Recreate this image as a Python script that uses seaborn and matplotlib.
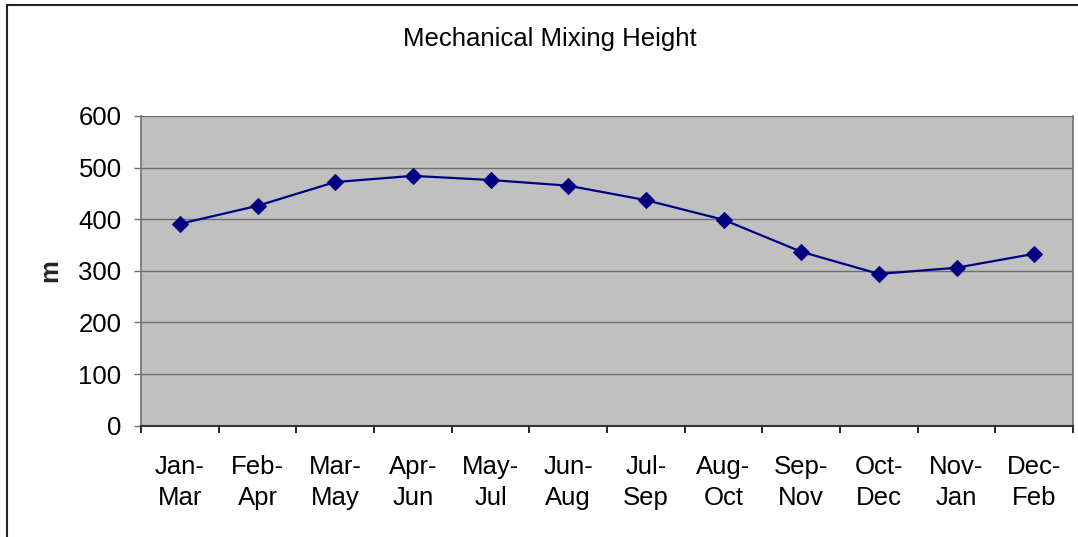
"""
Mechanical mixing height by three-month period, redrawn in the old spreadsheet look.
Output: out.png
"""

import matplotlib.pyplot as plt
import numpy as np
import pandas as pd
import seaborn as sns
from matplotlib.patches import Rectangle
from matplotlib.ticker import FixedLocator, NullFormatter

# data
periods = ["Jan-Mar", "Feb-Apr", "Mar-May", "Apr-Jun", "May-Jul", "Jun-Aug",
           "Jul-Sep", "Aug-Oct", "Sep-Nov", "Oct-Dec", "Nov-Jan", "Dec-Feb"]
height_m = [391, 426, 472, 484, 476, 465, 437, 399, 337, 294, 306, 333]
tick_labels = [p.replace("-", "-\n") for p in periods]
y_ticks = [0, 100, 200, 300, 400, 500, 600]

PLOT_BG = "#C0C0C0"
LINE = "#000080"
GRID = "#6E6E6E"
FS = 18.5

sns.set_theme(style="white")
plt.rcParams["font.family"] = ["Liberation Sans", "DejaVu Sans"]

fig = plt.figure(figsize=(10.78, 5.37), dpi=100)
ax = fig.add_axes([0.1308, 0.2073, 0.8646, 0.5767])
ax.set_facecolor(PLOT_BG)

df = pd.DataFrame({"period": periods, "height": height_m})
sns.lineplot(data=df, x="period", y="height", sort=False, ax=ax,
             color=LINE, lw=1.6, marker="D", markersize=8,
             markeredgecolor=LINE, markerfacecolor=LINE)

n = len(periods)
ax.set_xlim(-0.5, n - 0.5)
ax.set_ylim(0, 600)

# category labels centred, ticks on the boundaries
ax.xaxis.set_major_locator(FixedLocator(np.arange(n + 1) - 0.5))
ax.xaxis.set_major_formatter(NullFormatter())
ax.xaxis.set_minor_locator(FixedLocator(np.arange(n)))
ax.set_xticks(np.arange(n), tick_labels, minor=True)
ax.tick_params(axis="x", which="major", bottom=True, length=5, width=1.2,
               color="black", direction="out")
ax.tick_params(axis="x", which="minor", bottom=False, length=0, pad=21,
               labelsize=FS, labelcolor="black")
for t in ax.get_xticklabels(minor=True):
    t.set_linespacing(1.4)

ax.set_yticks(y_ticks)
ax.tick_params(axis="y", left=True, length=5, width=1.0, color=GRID,
               direction="out", labelsize=FS, labelcolor="black", pad=9)

for y in y_ticks[1:]:
    ax.axhline(y, color=GRID, lw=1.0, zorder=0.5)

for side in ["left", "right", "top"]:
    ax.spines[side].set_color(GRID)
    ax.spines[side].set_linewidth(1.2)
ax.spines["bottom"].set_color("#333333")
ax.spines["bottom"].set_linewidth(1.5)
ax.spines["top"].set_visible(False)

ax.set_xlabel("")
ax.set_ylabel("m", fontsize=FS, fontweight="bold", labelpad=12)

fig.text(0.510, 0.927, "Mechanical Mixing Height", ha="center", va="center",
         fontsize=FS, color="black")

# outer chart frame (cut off at the right and bottom in the original)
fig.patches.append(Rectangle((7 / 1078, -0.05), 1.2, 1.05 - 5 / 537,
                             transform=fig.transFigure, fill=False,
                             edgecolor="#222222", lw=1.5))

fig.savefig("out.png", dpi=100, facecolor="white")
